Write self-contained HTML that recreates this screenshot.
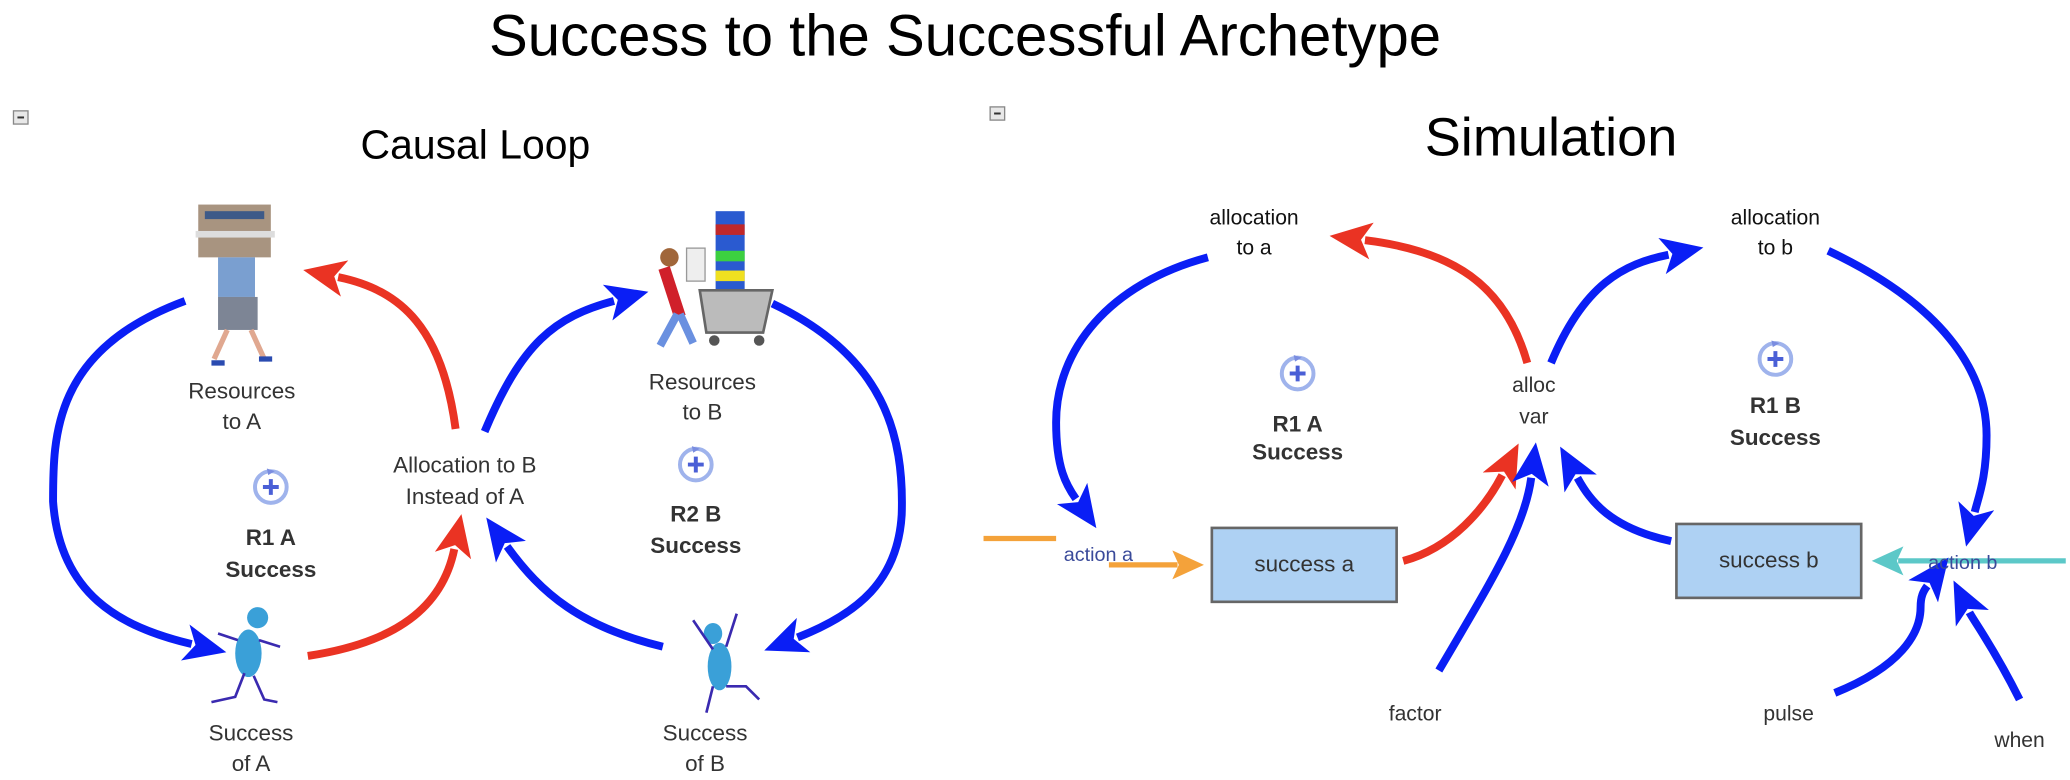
<!DOCTYPE html>
<html><head><meta charset="utf-8"><style>
html,body{margin:0;padding:0;background:#fff;}
svg{display:block;}
text{font-family:"Liberation Sans",sans-serif;}
</style></head><body>
<svg width="2070" height="780" viewBox="0 0 1568 591" xmlns="http://www.w3.org/2000/svg">
<defs>
<marker id="ab" markerUnits="userSpaceOnUse" markerWidth="40" markerHeight="40" refX="5" refY="14" orient="auto"><path d="M0,0 L32,14 L0,28 L8,14 Z" fill="#0a1ef5"/></marker>
<marker id="ar" markerUnits="userSpaceOnUse" markerWidth="40" markerHeight="40" refX="5" refY="14" orient="auto"><path d="M0,0 L32,14 L0,28 L8,14 Z" fill="#ea3323"/></marker>
<marker id="ao" markerUnits="userSpaceOnUse" markerWidth="30" markerHeight="30" refX="4" refY="11" orient="auto"><path d="M0,0 L24,11 L0,22 L5,11 Z" fill="#f4a23a"/></marker>
<marker id="ac" markerUnits="userSpaceOnUse" markerWidth="30" markerHeight="30" refX="4" refY="11" orient="auto"><path d="M0,0 L24,11 L0,22 L5,11 Z" fill="#5cc8c8"/></marker>
<g id="loop"><circle cx="0" cy="0" r="12" fill="none" stroke="#9fb3ec" stroke-width="3"/><path d="M-3,-14 L3,-12 L-2,-9" fill="#7a8de0"/><path d="M-6,0 H6 M0,-6 V6" stroke="#4a5fd6" stroke-width="3"/></g>
</defs>

<text x="731" y="42" font-size="44" text-anchor="middle">Success to the Successful Archetype</text>
<rect x="10" y="84" width="11" height="10" fill="#e8e8e8" stroke="#888" stroke-width="1"/><line x1="13" y1="89" x2="18" y2="89" stroke="#333" stroke-width="1.5"/>
<rect x="750" y="81" width="11" height="10" fill="#e8e8e8" stroke="#888" stroke-width="1"/><line x1="753" y1="86" x2="758" y2="86" stroke="#333" stroke-width="1.5"/>
<text x="360" y="120" font-size="31" text-anchor="middle">Causal Loop</text>
<text x="1175" y="118" font-size="41" text-anchor="middle">Simulation</text>

<g>
<rect x="150" y="155" width="55" height="40" fill="#a89480"/><rect x="155" y="160" width="45" height="6" fill="#3e5a88"/><rect x="148" y="175" width="60" height="5" fill="#ddd"/>
<rect x="165" y="195" width="28" height="30" fill="#7a9fd0"/><rect x="165" y="225" width="30" height="25" fill="#7d8595"/>
<path d="M172,250 L162,272 M190,250 L200,272" stroke="#e0a890" stroke-width="4"/>
<path d="M160,275 h10 M196,272 h10" stroke="#2a4bb0" stroke-width="4"/>
</g>
<g>
<rect x="542" y="160" width="22" height="60" fill="#2a5ad0"/><rect x="542" y="170" width="22" height="8" fill="#c0282a"/><rect x="542" y="190" width="22" height="8" fill="#3cd040"/><rect x="542" y="205" width="22" height="8" fill="#f0e020"/>
<path d="M530,220 L585,220 L578,252 L535,252 Z" fill="#bbb" stroke="#666" stroke-width="2"/>
<circle cx="541" cy="258" r="4" fill="#555"/><circle cx="575" cy="258" r="4" fill="#555"/>
<circle cx="507" cy="195" r="7" fill="#a0663a"/><path d="M503,203 L515,240" stroke="#d0202a" stroke-width="9"/>
<path d="M513,238 L500,262 M515,238 L525,260" stroke="#6a90e0" stroke-width="6"/>
<rect x="520" y="188" width="14" height="25" fill="#eee" stroke="#999"/>
</g>
<g fill="#3aa0d8" stroke="#3a2ab0" stroke-width="2">
<circle cx="195" cy="468" r="8" stroke="none"/><ellipse cx="188" cy="495" rx="10" ry="18" stroke="none"/>
<path d="M185,510 L178,528 L160,532 M192,512 L200,530 L210,532 M180,485 L165,480 M196,485 L212,490" fill="none"/>
<ellipse cx="540" cy="480" rx="7" ry="8" stroke="none"/><ellipse cx="545" cy="505" rx="9" ry="18" stroke="none"/>
<path d="M540,520 L535,540 M550,520 L565,520 L575,530 M540,492 L525,470 M550,490 L558,465" fill="none"/>
</g>

<g fill="none" stroke-width="6">
<path d="M140,228 C40,265 40,330 40,380 C45,450 90,475 145,488" stroke="#0a1ef5" marker-end="url(#ab)"/>
<path d="M345,325 C335,250 305,220 256,210" stroke="#ea3323" marker-end="url(#ar)"/>
<path d="M367,327 C395,260 420,240 465,228" stroke="#0a1ef5" marker-end="url(#ab)"/>
<path d="M585,230 C670,270 685,330 683,390 C680,440 650,465 604,483" stroke="#0a1ef5" marker-end="url(#ab)"/>
<path d="M233,497 C300,487 335,460 344,416" stroke="#ea3323" marker-end="url(#ar)"/>
<path d="M502,490 C440,475 410,450 384,414" stroke="#0a1ef5" marker-end="url(#ab)"/>
</g>

<g font-size="17" fill="#333" text-anchor="middle">
<text x="183" y="302">Resources</text><text x="183" y="325">to A</text>
<text x="352" y="358">Allocation to B</text><text x="352" y="382">Instead of A</text>
<text x="532" y="295">Resources</text><text x="532" y="318">to B</text>
<text x="190" y="561">Success</text><text x="190" y="584">of A</text>
<text x="534" y="561">Success</text><text x="534" y="584">of B</text>
</g>
<g font-size="17" font-weight="bold" fill="#333" text-anchor="middle">
<text x="205" y="413">R1  A</text><text x="205" y="437">Success</text>
<text x="527" y="395">R2  B</text><text x="527" y="419">Success</text>
<text x="983" y="327">R1  A</text><text x="983" y="348">Success</text>
<text x="1345" y="313">R1  B</text><text x="1345" y="337">Success</text>
</g>
<use href="#loop" x="205" y="369"/><use href="#loop" x="527" y="352"/>
<use href="#loop" x="983" y="283"/><use href="#loop" x="1345" y="272"/>

<rect x="918" y="400" width="140" height="56" fill="#aed1f3" stroke="#666" stroke-width="2"/>
<rect x="1270" y="397" width="140" height="56" fill="#aed1f3" stroke="#666" stroke-width="2"/>
<text x="988" y="433" font-size="17" fill="#333" text-anchor="middle">success a</text>
<text x="1340" y="430" font-size="17" fill="#333" text-anchor="middle">success b</text>

<g fill="none" stroke-width="4">
<path d="M745,408 H800 M840,428 H892" stroke="#f4a23a" marker-end="url(#ao)"/>
<path d="M1565,425 H1438" stroke="#5cc8c8" marker-end="url(#ac)"/>
</g>
<g fill="none" stroke-width="6">
<path d="M915,195 C840,215 800,265 800,320 C800,355 808,368 815,378" stroke="#0a1ef5" marker-end="url(#ab)"/>
<path d="M1157,275 C1140,215 1100,190 1034,182" stroke="#ea3323" marker-end="url(#ar)"/>
<path d="M1175,275 C1200,215 1230,200 1264,193" stroke="#0a1ef5" marker-end="url(#ab)"/>
<path d="M1385,190 C1470,230 1505,280 1505,330 C1505,362 1499,376 1496,388" stroke="#0a1ef5" marker-end="url(#ab)"/>
<path d="M1063,425 C1100,415 1125,385 1138,360" stroke="#ea3323" marker-end="url(#ar)"/>
<path d="M1090,508 C1130,440 1155,400 1160,362" stroke="#0a1ef5" marker-end="url(#ab)"/>
<path d="M1266,410 C1220,400 1205,380 1195,362" stroke="#0a1ef5" marker-end="url(#ab)"/>
<path d="M1390,525 C1440,505 1455,480 1455,460 C1455,452 1457,448 1460,444" stroke="#0a1ef5" marker-end="url(#ab)"/>
<path d="M1530,530 C1510,490 1495,470 1492,464" stroke="#0a1ef5" marker-end="url(#ab)"/>
</g>

<g font-size="16" fill="#111" text-anchor="middle">
<text x="950" y="170">allocation</text><text x="950" y="193">to a</text>
<text x="1345" y="170">allocation</text><text x="1345" y="193">to b</text>
<text x="1162" y="297" fill="#333">alloc</text><text x="1162" y="321" fill="#333">var</text>
<text x="1072" y="546" fill="#333">factor</text>
<text x="1355" y="546" fill="#333">pulse</text>
<text x="1530" y="566" fill="#333">when</text>
</g>
<text x="832" y="425" font-size="15" fill="#3a4a9a" text-anchor="middle">action a</text>
<text x="1487" y="431" font-size="15" fill="#3a4a9a" text-anchor="middle">action b</text>
</svg>
</body></html>
